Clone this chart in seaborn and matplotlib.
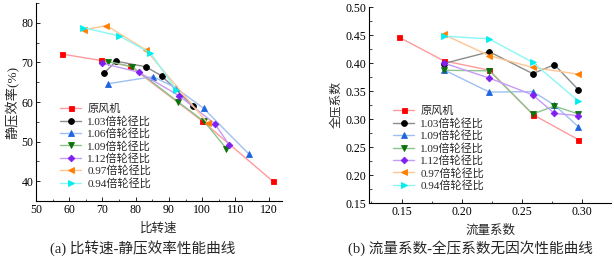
import matplotlib
matplotlib.use("Agg")
import matplotlib.pyplot as plt
import seaborn as sns
import numpy as np
from matplotlib.ticker import MultipleLocator, AutoMinorLocator

sns.set_theme(style="ticks")
plt.rcParams['font.family'] = ['Liberation Serif', 'Noto Sans CJK SC']
plt.rcParams['axes.unicode_minus'] = False

# ---------- data: panel (a) ----------
labels_a = ["原风机", "1.03倍轮径比", "1.06倍轮径比", "1.09倍轮径比",
            "1.12倍轮径比", "0.97倍轮径比", "0.94倍轮径比"]
ns_orig = [57.8, 69.5, 78.4, 100.0, 121.2]
eff_orig = [72.1, 70.5, 69.0, 55.2, 40.0]
ns_103 = [70.4, 74.2, 83.0, 87.8, 97.3]
eff_103 = [67.3, 70.3, 68.9, 66.6, 58.9]
ns_106 = [71.6, 85.2, 92.0, 100.4, 114.0]
eff_106 = [64.6, 66.4, 63.6, 58.4, 46.9]
ns_109 = [71.8, 79.0, 92.8, 100.6, 107.3]
eff_109 = [70.2, 68.9, 60.0, 55.1, 48.2]
ns_112 = [69.9, 81.0, 93.0, 103.8, 108.1]
eff_112 = [69.8, 67.5, 61.6, 54.5, 49.2]
ns_097 = [64.4, 71.2, 83.0, 101.6]
eff_097 = [78.2, 79.3, 73.2, 54.7]
ns_094 = [64.0, 75.0, 84.4, 92.2]
eff_094 = [78.8, 76.7, 72.4, 63.1]

# ---------- data: panel (b) ----------
labels_b = ["原风机", "1.03倍轮径比", "1.09倍轮径比", "1.09倍轮径比",
            "1.12倍轮径比", "0.97倍轮径比", "0.94倍轮径比"]
phi_orig = [0.148, 0.185, 0.223, 0.259, 0.297]
psi_orig = [0.446, 0.404, 0.387, 0.308, 0.263]
phi_103 = [0.185, 0.223, 0.259, 0.277, 0.297]
psi_103 = [0.399, 0.420, 0.381, 0.397, 0.352]
phi_106 = [0.185, 0.223, 0.259, 0.277, 0.297]
psi_106 = [0.388, 0.348, 0.349, 0.325, 0.286]
phi_109 = [0.185, 0.223, 0.259, 0.277, 0.297]
psi_109 = [0.387, 0.386, 0.309, 0.323, 0.309]
phi_112 = [0.185, 0.223, 0.259, 0.277, 0.297]
psi_112 = [0.400, 0.373, 0.343, 0.310, 0.306]
phi_097 = [0.185, 0.223, 0.259, 0.297]
psi_097 = [0.451, 0.413, 0.392, 0.380]
phi_094 = [0.185, 0.223, 0.259, 0.297]
psi_094 = [0.448, 0.443, 0.401, 0.332]

markers = ['s', 'o', '^', 'v', 'D', '<', '>']
msizes = [3.6, 4.2, 4.0, 4.0, 3.4, 4.0, 4.0]
solid = ['#ff0000', '#000000', '#1f66de', '#0b720b', '#8020f0', '#ff7f00', '#00eeee']
light = ['#ff9a9a', '#8c8c8c', '#9ec0f2', '#8cc48c', '#c79af8', '#ffc692', '#8cf6f6']

fig = plt.figure(figsize=(6.14, 2.58), dpi=100)
axA = fig.add_axes([36/614, 1-201/258, 246/614, 198/258])
axB = fig.add_axes([369/614, 1-203/258, 242/614, 196/258])

series_a = [(ns_orig, eff_orig), (ns_103, eff_103), (ns_106, eff_106), (ns_109, eff_109),
            (ns_112, eff_112), (ns_097, eff_097), (ns_094, eff_094)]
series_b = [(phi_orig, psi_orig), (phi_103, psi_103), (phi_106, psi_106), (phi_109, psi_109),
            (phi_112, psi_112), (phi_097, psi_097), (phi_094, psi_094)]

for ax, series, labels in [(axA, series_a, labels_a), (axB, series_b, labels_b)]:
    for i, ((xs, ys), lab) in enumerate(zip(series, labels)):
        sns.lineplot(x=xs, y=ys, ax=ax, sort=False, color=light[i], lw=1.0,
                     marker=markers[i], markersize=msizes[i],
                     markerfacecolor=solid[i], markeredgecolor=solid[i],
                     markeredgewidth=0.6, label=lab)

tick_fs = 8.5
for ax in (axA, axB):
    sns.despine(ax=ax)
    ax.spines['left'].set_linewidth(0.8)
    ax.spines['bottom'].set_linewidth(0.8)
    ax.spines['left'].set_color('black')
    ax.spines['bottom'].set_color('black')
    ax.tick_params(which='major', direction='in', length=3, width=0.6, labelsize=tick_fs,
                   pad=2, colors='black')
    ax.tick_params(which='minor', direction='in', length=1.8, width=0.5, colors='black')
    ax.xaxis.set_minor_locator(AutoMinorLocator(2))
    ax.yaxis.set_minor_locator(AutoMinorLocator(2))
    ax.set_facecolor('white')

axA.set_xlim(50, 124)
axA.set_ylim(35, 85)
axA.xaxis.set_major_locator(MultipleLocator(10))
axA.set_yticks([40, 50, 60, 70, 80])
axA.set_xlabel("比转速", fontsize=9, labelpad=5)
axA.set_ylabel("静压效率(%)", fontsize=9.5, labelpad=1)

axB.set_xlim(0.123, 0.324)
axB.set_ylim(0.15, 0.50)
axB.set_xticks([0.15, 0.20, 0.25, 0.30])
axB.set_xticklabels(["0.15", "0.20", "0.25", "0.30"])
axB.set_yticks(np.round(np.arange(0.15, 0.501, 0.05), 2))
axB.set_yticklabels([f"{v:.2f}" for v in np.arange(0.15, 0.501, 0.05)])
axB.set_xlabel("流量系数", fontsize=9, labelpad=5)
axB.set_ylabel("全压系数", fontsize=8.5, labelpad=2)

leg_kw = dict(loc='upper left', frameon=False, fontsize=8, handlelength=1.9,
              handletextpad=0.55, labelspacing=0.15, borderpad=0, borderaxespad=0)
axA.legend(bbox_to_anchor=(0.0976, 0.49), **leg_kw)
axB.legend(bbox_to_anchor=(0.099, 0.494), **leg_kw)

fig.text(143/614, 1-248/258, "(a) 比转速-静压效率性能曲线", ha='center', va='center', fontsize=10.5)
fig.text(470/614, 1-248/258, "(b) 流量系数-全压系数无因次性能曲线", ha='center', va='center', fontsize=10.5)

fig.savefig("out.png", dpi=100, facecolor='white')
